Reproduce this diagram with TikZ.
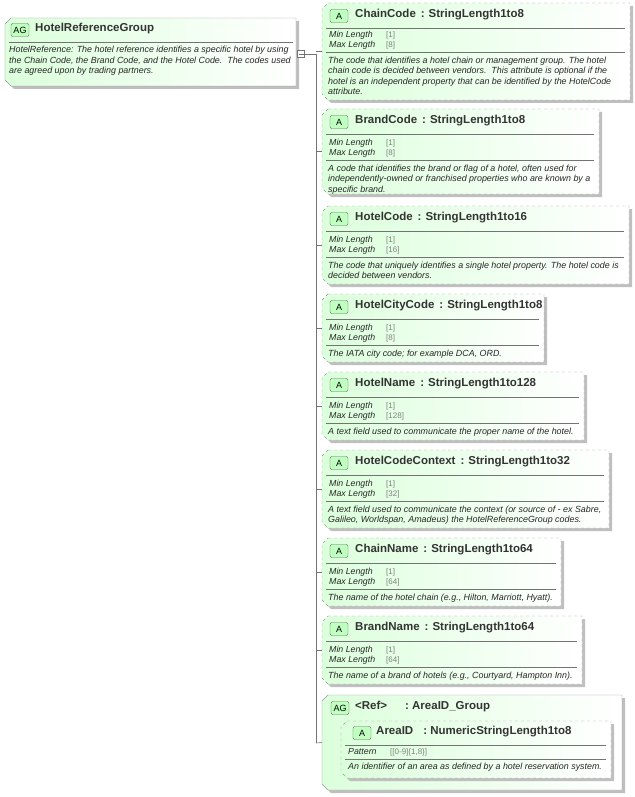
\documentclass[tikz,border=0pt]{standalone}
\usepackage{fontspec}
\setmainfont{Liberation Sans}
\begin{document}
\begin{tikzpicture}[x=1pt,y=-1pt,
  ttl/.style={anchor=west,font=\fontsize{11.5}{13}\selectfont\bfseries,text=black!80,inner sep=0},
  sm/.style={anchor=west,font=\fontsize{8.8}{10}\selectfont\itshape,text=black!85,inner sep=0},
  val/.style={anchor=west,font=\fontsize{8}{9}\selectfont,text=black!50,inner sep=0},
  dsc/.style={anchor=north west,font=\fontsize{8.9}{10.5}\selectfont\itshape,text=black!85,inner sep=0,align=left},
  badge/.style={draw=black!60,fill=green!25,rounded corners=2pt,font=\fontsize{9}{10}\selectfont,minimum width=18pt,minimum height=13pt,inner sep=0},
  sep/.style={draw=black!55,line width=0.5pt},
  conn/.style={draw=black!55,line width=0.6pt}]
\useasboundingbox (0,0) rectangle (634,797);
\newcommand\shp[4]{(#1+6,#2) -- (#3,#2) -- (#3,#4) -- (#1+6,#4) -- (#1,#4-6) -- (#1,#2+6) -- cycle}
\newcommand\bx[6]{%
  \fill[black!25] \shp{#2+3}{#3+3}{#4+3}{#5+3};
  \path[left color=green!14,right color=white,draw=black!40,#6] \shp{#2}{#3}{#4}{#5};
  \coordinate (#1) at (#2,{(#3+#5)/2});}
\newcommand\cln{\hspace{5pt}:\hspace{4pt}}
% main group
\bx{main}{5}{18}{296}{86}{solid}
\node[badge] (mb) at (20,30) {AG};
\node[ttl] (mt) at (35,29) {HotelReferenceGroup};
\path[sep] (9,42) -- (293,42);
\node[dsc] (md) at (9,46) {HotelReference: The hotel reference identifies a specific hotel by using\\the Chain Code, the Brand Code, and the Hotel Code.\ \ The codes used\\are agreed upon by trading partners.};
\node[draw=black!55,fill=white,minimum size=7pt,inner sep=0] (col) at (301,54) {};
\draw[black!55] (298.5,54) -- (303.5,54);
\coordinate (trunk) at (316,54);
\draw[conn] (col.east) -- (trunk) -- (316,743);
\newcommand\attr[9]{%
  \bx{#1}{#2}{#3}{#4}{#5}{dashed}
  \node[badge] (#1b) at (339,{#3+13}) {A};
  \node[ttl] (#1t) at (355,{#3+12}) {#6};
  \path[sep] (326,{#3+25}) -- ({#4-5},{#3+25});
  \path[sep] (326,#8) -- ({#4-5},#8);
  \node[dsc] (#1d) at (328,{#8+4.5}) {#9};
  \draw[conn] (316,{(#3+#5)/2}) -- (#1);}
\newcommand\mm[3]{%
  \node[sm] at (329,#1) {Min Length}; \node[val] at (386,#1) {[#2]};
  \node[sm] at (329,#1+10) {Max Length}; \node[val] at (386,#1+10) {[#3]};}
\attr{a1}{322}{3}{630}{100}{ChainCode\cln StringLength1to8}{35}{52}{The code that identifies a hotel chain or management group. The hotel\\chain code is decided between vendors.\ \ This attribute is optional if the\\hotel is an independent property that can be identified by the HotelCode\\attribute.}
\mm{35}{1}{8}
\attr{a2}{322}{109}{599}{194}{BrandCode\cln StringLength1to8}{143}{160}{A code that identifies the brand or flag of a hotel, often used for\\independently-owned or franchised properties who are known by a\\specific brand.}
\mm{143}{1}{8}
\attr{a3}{322}{206}{629}{284}{HotelCode\cln StringLength1to16}{240}{257}{The code that uniquely identifies a single hotel property. The hotel code is\\decided between vendors.}
\mm{240}{1}{16}
\attr{a4}{322}{294}{544}{362}{HotelCityCode\cln StringLength1to8}{328}{345}{The IATA city code; for example DCA, ORD.}
\mm{328}{1}{8}
\attr{a5}{322}{372}{584}{440}{HotelName\cln StringLength1to128}{406}{423}{A text field used to communicate the proper name of the hotel.}
\mm{406}{1}{128}
\attr{a6}{322}{450}{609}{528}{HotelCodeContext\cln StringLength1to32}{484}{501}{A text field used to communicate the context (or source of - ex Sabre,\\Galileo, Worldspan, Amadeus) the HotelReferenceGroup codes.}
\mm{484}{1}{32}
\attr{a7}{322}{538}{561}{606}{ChainName\cln StringLength1to64}{572}{589}{The name of the hotel chain (e.g., Hilton, Marriott, Hyatt).}
\mm{572}{1}{64}
\attr{a8}{322}{616}{582}{684}{BrandName\cln StringLength1to64}{650}{667}{The name of a brand of hotels (e.g., Courtyard, Hampton Inn).}
\mm{650}{1}{64}
% AG ref group
\bx{g}{322}{695}{622}{790}{solid}
\draw[conn] (316,743) -- (g);
\node[badge] (gb) at (340,708) {AG};
\node[ttl] (gt) at (355,707) {<Ref>\hspace{18pt}:\ AreaID\_Group};
\bx{in}{341}{721}{611}{778}{dashed}
\node[badge] (ib) at (362,733) {A};
\node[ttl] (it) at (376,732) {AreaID\hspace{10pt}:\ NumericStringLength1to8};
\path[sep] (345,745) -- (606,745);
\node[sm] at (348,752) {Pattern}; \node[val] at (390,752) {[[0-9]\{1,8\}]};
\path[sep] (345,759) -- (606,759);
\node[dsc] (id) at (348,763) {An identifier of an area as defined by a hotel reservation system.};
\end{tikzpicture}
\end{document}
